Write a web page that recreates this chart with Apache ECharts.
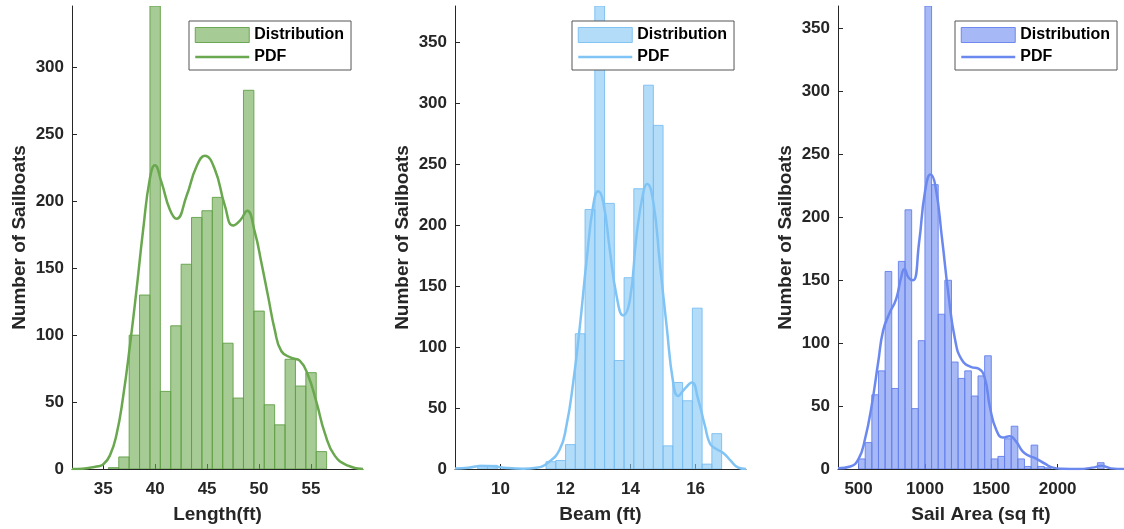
<!DOCTYPE html>
<html>
<head>
<meta charset="utf-8">
<title>Sailboat distributions</title>
<script src="https://cdn.jsdelivr.net/npm/echarts@6/dist/echarts.min.js"></script>
<style>
  html, body { margin: 0; padding: 0; background: #fff; }
  #chart { width: 1124px; height: 529px; }
</style>
</head>
<body>
<div id="chart"></div>
<script>
// ---- data ----
// Length (ft): bins of 1 ft starting at 35.5
var lengthBinStart = 35.5
var lengthBinWidth = 1
var lengthCounts = [1, 9, 100, 130, 346, 58, 107, 153, 188, 193, 203, 94, 53, 283, 118, 48, 33, 82, 62, 72, 13]
var lengthPdfX = [32.0, 33.0, 33.7, 34.5, 35.0, 35.64, 36.29, 36.92, 37.57, 38.21, 38.85, 39.49, 39.97, 40.62, 41.41, 42.06, 43.02, 43.98, 44.78, 45.74, 46.7, 47.5, 48.2, 48.85, 49.59, 50.23, 50.87, 51.51, 52.15, 53.12, 53.91, 54.71, 55.52, 56.32, 57.28, 58.56, 60.0]
var lengthPdfY = [0, 0.2, 1, 2, 3.5, 10, 26, 54, 92, 134, 179, 217, 227, 214, 194, 187, 204, 226, 234, 224, 197, 182, 186, 193, 177, 154, 129, 104, 88, 83, 81, 70, 50, 27, 10, 2.5, 0]
var lengthTicks = [35, 40, 45, 50, 55]

// Beam (ft): bins of 0.3 ft starting at 9.3
var beamBinStart = 9.3
var beamBinWidth = 0.3
var beamCounts = [3, 3, 0, 0, 0, 0, 0, 6, 7, 20, 111, 213, 380, 218, 89, 157, 230, 315, 282, 19, 71, 56, 132, 4, 29]
var beamPdfX = [8.6, 9.0, 9.4, 9.8, 10.2, 10.7, 11.1, 11.45, 11.82, 12.03, 12.23, 12.44, 12.65, 12.85, 13.0, 13.16, 13.36, 13.57, 13.77, 13.98, 14.18, 14.39, 14.51, 14.7, 14.9, 15.11, 15.31, 15.46, 15.67, 15.88, 16.08, 16.29, 16.44, 16.6, 16.86, 17.07, 17.32, 17.55]
var beamPdfY = [0.5, 1, 2.5, 2, 0.8, 0.3, 1, 5, 16, 36, 70, 117, 172, 216, 228, 219, 180, 142, 126, 139, 191, 227, 234, 219, 169, 117, 71, 60, 66, 71, 57, 35, 21, 17, 13, 7, 1, 0]
var beamTicks = [10, 12, 14, 16]

// Sail area (sq ft): bins of 50 starting at 500
var sailBinStart = 500
var sailBinWidth = 50
var sailCounts = [8, 21, 59, 78, 157, 64, 165, 206, 48, 102, 368, 226, 123, 150, 85, 72, 78, 58, 74, 90, 8, 10, 24, 34, 8, 2, 19, 2, 1, 0, 0, 0, 0, 0, 0, 0, 5]
var sailPdfX = [345, 438, 500, 549, 598, 648, 685, 734, 783, 820, 845, 877, 911, 956, 1000, 1042, 1079, 1129, 1178, 1227, 1277, 1351, 1400, 1449, 1490, 1538, 1588, 1637, 1686, 1736, 1785, 1834, 1908, 1958, 2032, 2150, 2278, 2328, 2402, 2500]
var sailPdfY = [0.5, 2, 8, 24, 50, 85, 110, 124, 135, 152, 159, 152, 150, 180, 220, 234, 225, 183, 138, 103, 87, 81, 80, 73, 49, 31, 25, 26, 22, 14, 10.5, 8.5, 4, 1.3, 0.2, 0, 1.3, 2.6, 0.5, 0]
var sailTicks = [500, 1000, 1500, 2000]

var countTicks = [0, 50, 100, 150, 200, 250, 300, 350]

// ---- styling ----
var textColor = '#262626'
var fontFamily = '"Liberation Sans", Arial, Helvetica, sans-serif'

var panels = [
  {
    name: 'Length(ft)', start: lengthBinStart, width: lengthBinWidth, counts: lengthCounts,
    pdfX: lengthPdfX, pdfY: lengthPdfY, ticks: lengthTicks,
    xMin: 32, xMax: 60, yMax: 346,
    left: 72, legendLeft: 189,
    line: '#6aa84f', fill: 'rgba(106,168,79,0.6)', edge: 'rgba(96,160,70,0.9)'
  },
  {
    name: 'Beam (ft)', start: beamBinStart, width: beamBinWidth, counts: beamCounts,
    pdfX: beamPdfX, pdfY: beamPdfY, ticks: beamTicks,
    xMin: 8.6, xMax: 17.55, yMax: 380,
    left: 455, legendLeft: 572,
    line: '#80c4f5', fill: 'rgba(128,196,245,0.6)', edge: 'rgba(120,190,242,0.9)'
  },
  {
    name: 'Sail Area (sq ft)', start: sailBinStart, width: sailBinWidth, counts: sailCounts,
    pdfX: sailPdfX, pdfY: sailPdfY, ticks: sailTicks,
    xMin: 345, xMax: 2500, yMax: 368,
    left: 838, legendLeft: 955,
    line: '#6b88ef', fill: 'rgba(107,136,239,0.6)', edge: 'rgba(100,128,236,0.9)'
  }
]

// histogram bins -> [x0, x1, count]
function makeBins (start, width, counts) {
  var out = []
  counts.forEach(function (c, i) {
    if (c > 0) out.push([start + i * width, start + (i + 1) * width, c])
  })
  return out
}

function makePdf (xs, ys) {
  return xs.map(function (x, i) { return [x, ys[i]] })
}

// plain numbers, no thousands separator
function plainLabel (v) {
  return String(v)
}

var option = {
  animation: false,
  backgroundColor: '#fff',
  grid: [],
  xAxis: [],
  yAxis: [],
  legend: [],
  series: []
}

panels.forEach(function (p, k) {
  option.grid.push({ left: p.left, top: 6, width: 291, height: 464, containLabel: false })

  option.xAxis.push({
    type: 'value',
    gridIndex: k,
    min: p.xMin,
    max: p.xMax,
    name: p.name,
    nameLocation: 'middle',
    nameGap: 36,
    nameTextStyle: { fontSize: 19, fontWeight: 'bold', color: textColor, fontFamily: fontFamily },
    axisLine: { show: true, onZero: false, lineStyle: { color: textColor, width: 1 } },
    axisTick: { show: true, inside: true, length: 5, customValues: p.ticks, lineStyle: { color: textColor } },
    axisLabel: {
      customValues: p.ticks,
      formatter: plainLabel,
      margin: 12,
      fontSize: 17,
      fontWeight: 'bold',
      color: textColor,
      fontFamily: fontFamily
    },
    splitLine: { show: false }
  })

  option.yAxis.push({
    type: 'value',
    gridIndex: k,
    min: 0,
    max: p.yMax,
    name: 'Number of Sailboats',
    nameLocation: 'middle',
    nameGap: 43,
    nameTextStyle: { fontSize: 19, fontWeight: 'bold', color: textColor, fontFamily: fontFamily },
    axisLine: { show: true, lineStyle: { color: textColor, width: 1 } },
    axisTick: { show: true, inside: true, length: 5, customValues: countTicks, lineStyle: { color: textColor } },
    axisLabel: {
      customValues: countTicks,
      formatter: plainLabel,
      margin: 8,
      fontSize: 17,
      fontWeight: 'bold',
      color: textColor,
      fontFamily: fontFamily
    },
    splitLine: { show: false }
  })

  option.legend.push({
    orient: 'vertical',
    left: p.legendLeft,
    top: 21,
    itemWidth: 54,
    itemHeight: 15,
    itemGap: 6,
    padding: [6, 7, 5, 5],
    backgroundColor: '#fff',
    borderColor: '#555',
    borderWidth: 1,
    borderRadius: 0,
    selectedMode: false,
    textStyle: { fontSize: 16, fontWeight: 'bold', color: '#000', fontFamily: fontFamily, lineHeight: 16 },
    data: [
      { name: 'Distribution', icon: 'rect', itemStyle: { color: p.fill, borderColor: p.edge, borderWidth: 1 } },
      // line only, hide the marker in the middle
      { name: 'PDF', itemStyle: { color: 'rgba(0,0,0,0)', borderColor: 'rgba(0,0,0,0)', borderWidth: 0, opacity: 0 }, lineStyle: { color: p.line, width: 2.5 } }
    ]
  })

  // bars drawn through the axis scales
  option.series.push({
    name: 'Distribution',
    type: 'custom',
    xAxisIndex: k,
    yAxisIndex: k,
    z: 2,
    clip: true,
    encode: { x: [0, 1], y: 2 },
    itemStyle: { color: p.fill, borderColor: p.edge, borderWidth: 1 },
    renderItem: function (params, api) {
      var topLeft = api.coord([api.value(0), api.value(2)])
      var bottomRight = api.coord([api.value(1), 0])
      return {
        type: 'rect',
        shape: {
          x: topLeft[0],
          y: topLeft[1],
          width: bottomRight[0] - topLeft[0],
          height: bottomRight[1] - topLeft[1]
        },
        style: { fill: p.fill, stroke: p.edge, lineWidth: 1 }
      }
    },
    data: makeBins(p.start, p.width, p.counts)
  })

  option.series.push({
    name: 'PDF',
    type: 'line',
    xAxisIndex: k,
    yAxisIndex: k,
    z: 3,
    symbol: 'none',
    smooth: 0.5,
    lineStyle: { color: p.line, width: 2.5 },
    itemStyle: { color: p.line },
    data: makePdf(p.pdfX, p.pdfY)
  })
})

var myChart = echarts.init(document.getElementById('chart'), null, { renderer: 'canvas' })
myChart.setOption(option)
</script>
</body>
</html>
